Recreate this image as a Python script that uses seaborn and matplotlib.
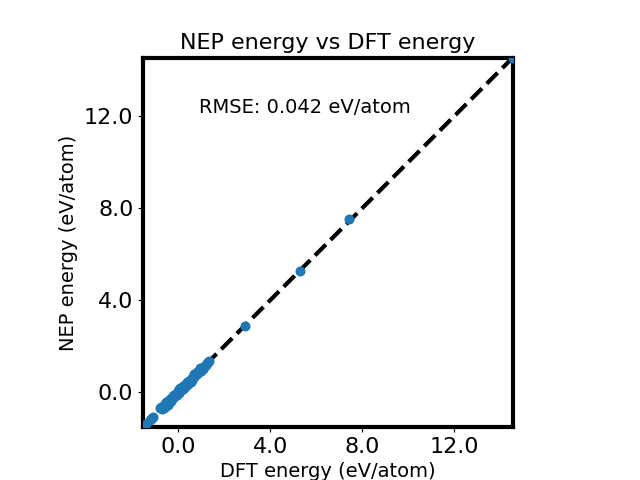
import numpy as np
import pandas as pd
import seaborn as sns
import matplotlib
matplotlib.use("Agg")
import matplotlib.pyplot as plt

# energies per atom
dft = [-1.52, -1.48, -1.44, -1.40, -1.22, -1.18, -1.12, -1.08,
       -0.78, -0.74, -0.70, -0.66, -0.62, -0.58, -0.55, -0.50,
       -0.46, -0.42, -0.38, -0.34, -0.30, -0.26, -0.22, -0.18,
       -0.14, -0.10, -0.06, -0.02, 0.02, 0.06, 0.10, 0.14,
       0.18, 0.22, 0.26, 0.30, 0.34, 0.38, 0.42, 0.46,
       0.50, 0.55, 0.60, 0.65, 0.70, 0.75, 0.80, 0.85,
       0.90, 0.95, 1.00, 1.05, 1.10, 1.15, 1.20, 1.25,
       1.30, 1.35, -0.72, -0.60, -0.40, -0.20, 0.00, 0.20,
       0.40, 0.60, 0.80, 1.00, -0.55, -0.30, 0.10, 0.35,
       0.70, 1.10, -0.45, 0.05, 0.55, 0.95,
       2.91, 5.30, 7.43, 14.55]
nep = [-1.50, -1.46, -1.45, -1.38, -1.20, -1.16, -1.13, -1.06,
       -0.70, -0.66, -0.74, -0.60, -0.68, -0.52, -0.60, -0.44,
       -0.50, -0.36, -0.42, -0.30, -0.34, -0.22, -0.26, -0.14,
       -0.18, -0.06, -0.10, 0.02, -0.02, 0.10, 0.06, 0.18,
       0.14, 0.26, 0.20, 0.32, 0.30, 0.40, 0.38, 0.48,
       0.46, 0.56, 0.58, 0.66, 0.68, 0.76, 0.79, 0.86,
       0.90, 0.96, 1.00, 1.06, 1.10, 1.16, 1.20, 1.26,
       1.30, 1.36, -0.62, -0.66, -0.46, -0.14, 0.06, 0.14,
       0.46, 0.54, 0.86, 0.94, -0.43, -0.40, 0.20, 0.26,
       0.80, 1.02, -0.55, 0.15, 0.45, 1.05,
       2.87, 5.26, 7.52, 14.55]
rmse_text = "RMSE: 0.042 eV/atom"

df = pd.DataFrame({"dft": dft, "nep": nep})

fig, ax = plt.subplots(figsize=(6.4, 4.8), dpi=100)
sns.scatterplot(data=df, x="dft", y="nep", ax=ax, s=52,
                color="#1f77b4", linewidth=0, zorder=3)

lo = min(df.dft.min(), df.nep.min())
hi = max(df.dft.max(), df.nep.max())
ax.plot([lo, hi], [lo, hi], color="black", linestyle="--", linewidth=3)
ax.set_xlim(lo, hi)
ax.set_ylim(lo, hi)
ax.set_aspect("equal")

ticks = [0.0, 4.0, 8.0, 12.0]
ax.set_xticks(ticks)
ax.set_yticks(ticks)
ax.set_xticklabels([f"{t:.1f}" for t in ticks])
ax.set_yticklabels([f"{t:.1f}" for t in ticks])
ax.tick_params(labelsize=16)

for sp in ax.spines.values():
    sp.set_linewidth(3)

ax.set_xlabel("DFT energy (eV/atom)", fontsize=14)
ax.set_ylabel("NEP energy (eV/atom)", fontsize=14)
ax.set_title("NEP energy vs DFT energy", fontsize=16)
ax.text(0.15, 0.85, rmse_text, transform=ax.transAxes, fontsize=14)

fig.savefig("out.png", dpi=100)
